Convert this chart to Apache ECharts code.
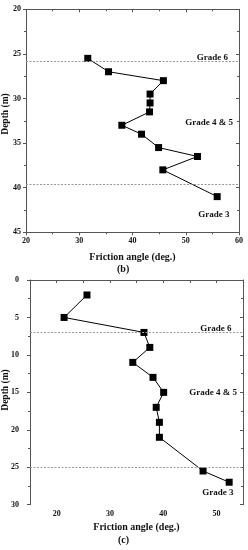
<!DOCTYPE html>
<html><head><meta charset="utf-8">
<script src="https://cdn.jsdelivr.net/npm/echarts@6/dist/echarts.min.js"></script>
<style>html,body{margin:0;padding:0;background:#fff}#c{width:248px;height:550px}</style>
</head><body><div id="c"></div>
<script>
// Panel (b)
var depthB = [25.5, 27, 28, 29.5, 30.5, 31.5, 33, 34, 35.5, 36.5, 38, 41];
var angleB = [31.6, 35.5, 45.8, 43.3, 43.3, 43.2, 38.0, 41.7, 44.9, 52.2, 45.7, 55.9];
var gradeLinesB = [25.8, 39.6];
var gradeLabelsB = [['Grade 6', 55.0, 25.45], ['Grade 4 & 5', 54.4, 32.7], ['Grade 3', 55.3, 43.0]];
// Panel (c)
var depthC = [2, 5, 7, 9, 11, 13, 15, 17, 19, 21, 25.5, 27];
var angleC = [25.7, 21.4, 36.4, 37.5, 34.3, 38.1, 40.1, 38.7, 39.3, 39.3, 47.5, 52.4];
var gradeLinesC = [7, 25];
var gradeLabelsC = [['Grade 6', 49.9, 6.5], ['Grade 4 & 5', 49.4, 15.1], ['Grade 3', 50.3, 28.35]];
var xTitle = 'Friction angle (deg.)';
var yTitle = 'Depth (m)';
var captions = ['(b)', '(c)'];

var FONT = '"Liberation Serif", "Times New Roman", serif';
var AX = '#555';
var chart = echarts.init(document.getElementById('c'), null, {renderer: 'canvas'});

function lbl(size) { return {fontFamily: FONT, fontWeight: 'bold', fontSize: size, color: '#111'}; }

function mainX(grid, min, max, interval, fmt, minor, margin, gap) {
  return {
    type: 'value', gridIndex: grid, min: min, max: max, interval: interval, position: 'bottom',
    name: xTitle, nameLocation: 'middle', nameGap: gap,
    nameTextStyle: lbl(10),
    axisLine: {show: true, lineStyle: {color: AX, width: 1}},
    axisTick: {show: true, inside: false, length: 3, lineStyle: {color: AX}},
    minorTick: {show: minor, splitNumber: 2, length: 2, lineStyle: {color: AX}},
    splitLine: {show: false}, minorSplitLine: {show: false},
    axisLabel: Object.assign({margin: margin, formatter: fmt}, lbl(8))
  };
}
function mirrorX(grid, min, max, interval, minor) {
  return {
    type: 'value', gridIndex: grid, min: min, max: max, interval: interval, position: 'top',
    axisLine: {show: true, lineStyle: {color: AX, width: 1}},
    axisTick: {show: true, inside: true, length: 3, lineStyle: {color: AX}},
    minorTick: {show: minor, splitNumber: 2, length: 2, lineStyle: {color: AX}},
    splitLine: {show: false}, axisLabel: {show: false}
  };
}
function mainY(grid, min, max, margin) {
  return {
    type: 'value', gridIndex: grid, min: min, max: max, interval: 5, inverse: true, position: 'left',
    axisLine: {show: true, lineStyle: {color: AX, width: 1}},
    axisTick: {show: true, inside: false, length: 3, lineStyle: {color: AX}},
    minorTick: {show: true, splitNumber: 2, length: 2, lineStyle: {color: AX}},
    splitLine: {show: false},
    axisLabel: Object.assign({margin: margin}, lbl(8))
  };
}
function mirrorY(grid, min, max) {
  return {
    type: 'value', gridIndex: grid, min: min, max: max, interval: 5, inverse: true, position: 'right',
    axisLine: {show: true, lineStyle: {color: AX, width: 1}},
    axisTick: {show: true, inside: true, length: 3, lineStyle: {color: AX}},
    minorTick: {show: true, splitNumber: 2, length: 2, lineStyle: {color: AX}},
    splitLine: {show: false}, axisLabel: {show: false}
  };
}
function pts(xs, ys) { return xs.map(function (x, i) { return [x, ys[i]]; }); }
function series(xi, yi, data, lines, labels) {
  return {
    type: 'line', xAxisIndex: xi, yAxisIndex: yi, data: data,
    symbol: 'rect', symbolSize: 7, showAllSymbol: true,
    itemStyle: {color: '#000'}, lineStyle: {color: '#000', width: 1},
    animation: false,
    markLine: {
      silent: true, symbol: 'none', animation: false,
      lineStyle: {color: '#999', type: [2, 1.5], width: 1},
      label: {show: false},
      data: lines.map(function (v) { return {yAxis: v}; })
    },
    markPoint: {
      silent: true, symbol: 'circle', symbolSize: 0, animation: false,
      label: Object.assign({show: true, position: 'inside', formatter: '{b}'}, lbl(9)),
      data: labels.map(function (l) { return {name: l[0], coord: [l[1], l[2]]}; })
    }
  };
}
function ytitle(cx, cy) {
  return {type: 'text', x: cx, y: cy, rotation: Math.PI / 2,
    style: {text: yTitle, font: 'bold 9.5px ' + FONT, fill: '#111', align: 'center', verticalAlign: 'middle'}};
}

chart.setOption({
  animation: false,
  grid: [
    {left: 26, top: 9.3, width: 213, height: 223, outerBoundsMode: 'none', containLabel: false},
    {left: 30, top: 280, width: 213, height: 224.7, outerBoundsMode: 'none', containLabel: false}
  ],
  xAxis: [
    mainX(0, 20, 60, 10, '{value}', true, 5, 20),
    mirrorX(0, 20, 60, 10, true),
    mainX(1, 15, 55, 5, function (v) { return v % 10 === 0 ? String(v) : ''; }, false, 5, 18),
    mirrorX(1, 15, 55, 5, false)
  ],
  yAxis: [
    mainY(0, 20, 45, 5),
    mirrorY(0, 20, 45),
    mainY(1, 0, 30, 11),
    mirrorY(1, 0, 30)
  ],
  series: [
    series(0, 0, pts(angleB, depthB), gradeLinesB, gradeLabelsB),
    series(2, 2, pts(angleC, depthC), gradeLinesC, gradeLabelsC)
  ],
  graphic: [
    ytitle(5.5, 114),
    ytitle(5.5, 390),
    {type: 'text', left: 117, top: 264, style: {text: captions[0], font: 'bold 10px ' + FONT, fill: '#111'}},
    {type: 'text', left: 118, top: 535.5, style: {text: captions[1], font: 'bold 10px ' + FONT, fill: '#111'}}
  ]
});
</script></body></html>
